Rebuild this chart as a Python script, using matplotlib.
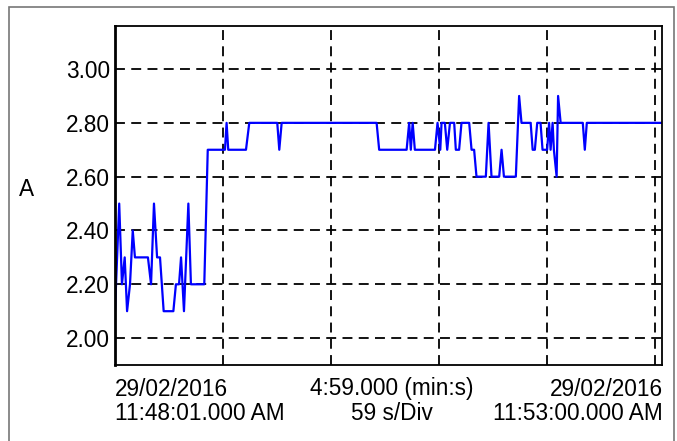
import matplotlib.pyplot as plt
from matplotlib.patches import Rectangle

# vertices of the trace (seconds from start, amps)
t_sec = [0, 2.3, 3.8, 5.3, 6.6, 8.2, 9.7, 10.9, 18.0, 19.7, 21.3, 23.0, 24.6, 26.6,
         31.9, 33.3, 35.0, 36.1, 37.7, 40.1, 41.5, 48.8, 50.7, 60.1, 61.0, 61.9,
         71.6, 73.4, 88.7, 89.8, 91.1, 143.0, 144.4, 159.4, 160.8, 161.7, 162.7,
         163.9, 174.9, 176.3, 177.8, 178.5, 180.3, 181.6, 183.1, 185.4, 186.3,
         188.1, 189.4, 193.6, 194.9, 196.3, 197.6, 202.7, 204.2, 205.8, 210.0,
         211.3, 212.6, 219.1, 220.9, 222.2, 227.2, 228.3, 229.5, 230.8, 232.6,
         233.7, 236.2, 237.3, 238.1, 239.2, 239.9, 241.4, 242.2, 243.6, 255.7,
         256.8, 257.9, 299]
amps = [2.1, 2.5, 2.2, 2.3, 2.1, 2.2, 2.4, 2.3, 2.3, 2.2, 2.5, 2.3, 2.3, 2.1,
        2.1, 2.2, 2.2, 2.3, 2.1, 2.5, 2.2, 2.2, 2.7, 2.7, 2.8, 2.7,
        2.7, 2.8, 2.8, 2.7, 2.8, 2.8, 2.7, 2.7, 2.8, 2.7, 2.8,
        2.7, 2.7, 2.8, 2.7, 2.8, 2.8, 2.7, 2.8, 2.8, 2.7,
        2.7, 2.8, 2.8, 2.7, 2.7, 2.6, 2.6, 2.8, 2.6, 2.6,
        2.7, 2.6, 2.6, 2.9, 2.8, 2.8, 2.7, 2.7, 2.8, 2.8,
        2.7, 2.7, 2.8, 2.7, 2.8, 2.7, 2.6, 2.9, 2.8, 2.8,
        2.7, 2.8, 2.8]

y_ticks = [2.0, 2.2, 2.4, 2.6, 2.8, 3.0]
div = 59
x_ticks = [div * i for i in range(1, 6)]

plt.rcParams['font.family'] = ['Liberation Sans', 'DejaVu Sans']
fs = 16.3

fig = plt.figure(figsize=(6.77, 4.41), dpi=100)
W, H = 677, 441
ax = fig.add_axes([115 / W, 1 - 365 / H, (662 - 115) / W, (365 - 26) / H])

ax.plot(t_sec, amps, color='#0000ff', lw=1.6)
ax.set_xlim(0, 299)
ax.set_ylim(1.9, 3.16)

ax.set_yticks(y_ticks)
ax.set_yticklabels(['%.2f' % v for v in y_ticks], fontsize=fs)
ax.set_xticks(x_ticks)
ax.set_xticklabels([])
ax.tick_params(length=0, pad=3.5)
ax.grid(True, color='black', linestyle=(0, (5.5, 3.5)), lw=1.3)
for s in ax.spines.values():
    s.set_linewidth(1.3)
ax.spines['left'].set_linewidth(2)

# outer frame
fig.patches.append(Rectangle((9 / W, -0.05), (674 - 9) / W, 1.05 - 7 / H,
                             transform=fig.transFigure, fill=False,
                             edgecolor='#777777', lw=1.2))

fig.text(27 / W, 1 - 190 / H, 'A', fontsize=fs, ha='center', va='center')
fig.text(115 / W, 1 - 389 / H, '29/02/2016', fontsize=fs, ha='left', va='center')
fig.text(115 / W, 1 - 414 / H, '11:48:01.000 AM', fontsize=fs, ha='left', va='center')
fig.text(392 / W, 1 - 389 / H, '4:59.000 (min:s)', fontsize=fs, ha='center', va='center')
fig.text(392 / W, 1 - 414 / H, '59 s/Div', fontsize=fs, ha='center', va='center')
fig.text(663 / W, 1 - 389 / H, '29/02/2016', fontsize=fs, ha='right', va='center')
fig.text(663 / W, 1 - 414 / H, '11:53:00.000 AM', fontsize=fs, ha='right', va='center')

fig.savefig('out.png', dpi=100)
